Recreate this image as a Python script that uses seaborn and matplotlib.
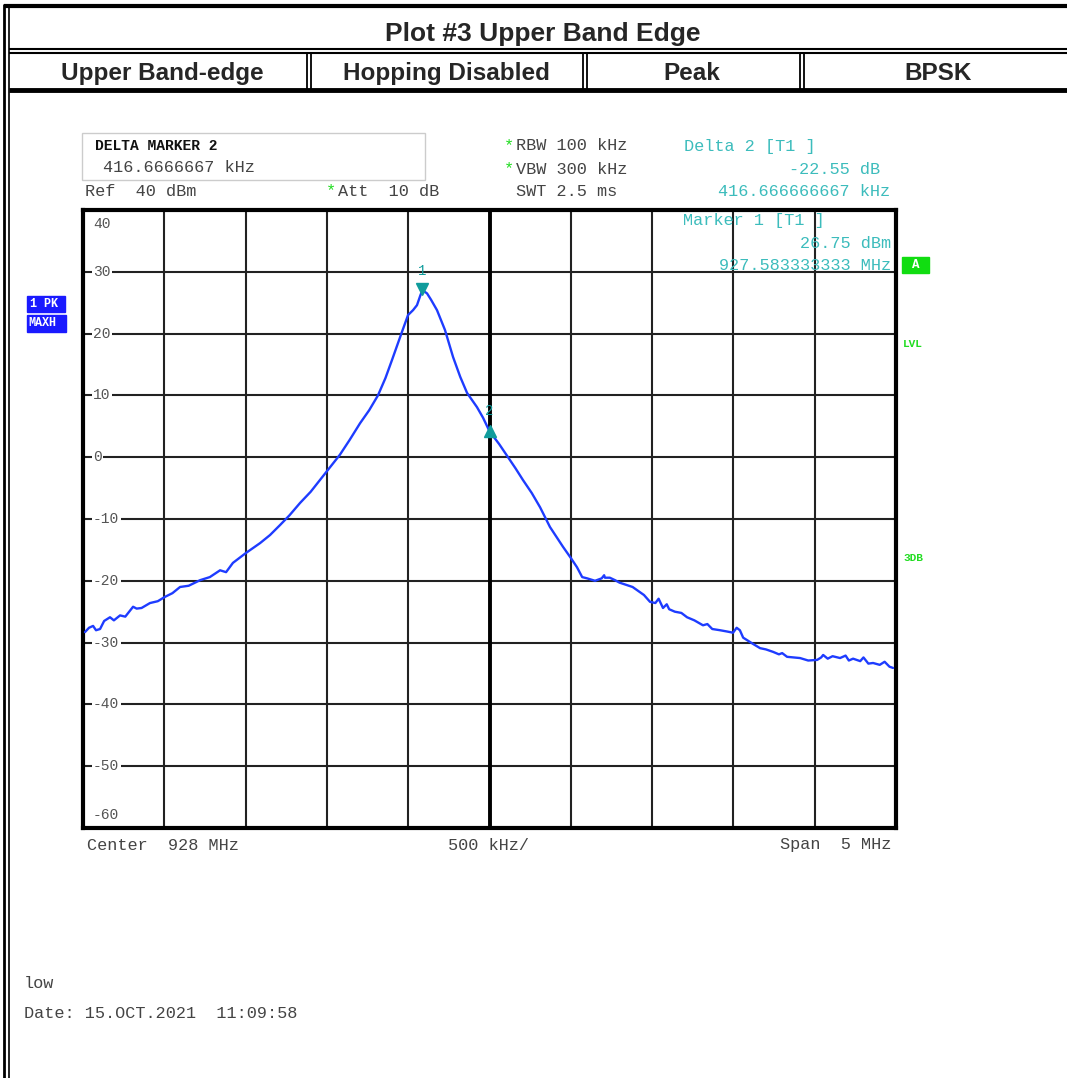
import matplotlib
matplotlib.use("Agg")
import matplotlib.pyplot as plt
import numpy as np
import pandas as pd
import seaborn as sns

# trace (MHz, dBm)
freq = [925.512, 925.537, 925.562, 925.580, 925.605, 925.630, 925.666, 925.690, 925.728, 925.760,
        925.808, 925.830, 925.860, 925.912, 925.960, 926.004, 926.050, 926.097, 926.150, 926.220,
        926.280, 926.343, 926.380, 926.422, 926.502, 926.589, 926.650, 926.711, 926.770, 926.835,
        926.900, 926.957, 927.020, 927.080, 927.140, 927.204, 927.260, 927.314, 927.360, 927.400,
        927.440, 927.462, 927.499, 927.530, 927.554, 927.575, 927.583, 927.600, 927.616, 927.640,
        927.677, 927.726, 927.776, 927.820, 927.862, 927.923, 927.960, 928.000, 928.060, 928.114,
        928.160, 928.206, 928.260, 928.311, 928.372, 928.452, 928.500, 928.538, 928.570, 928.600,
        928.649, 928.690, 928.705, 928.710, 928.740, 928.772, 928.800, 928.846, 928.880, 928.907,
        928.950, 928.987, 929.020, 929.040, 929.067, 929.090, 929.105, 929.140, 929.180, 929.215,
        929.260, 929.313, 929.340, 929.370, 929.418, 929.460, 929.498, 929.520, 929.540, 929.560,
        929.584, 929.620, 929.664, 929.700, 929.744, 929.780, 929.800, 929.830, 929.870, 929.910,
        929.960, 930.015, 930.040, 930.052, 930.080, 930.110, 930.156, 930.190, 930.210, 930.236,
        930.280, 930.300, 930.330, 930.359, 930.400, 930.430, 930.460, 930.482]
level = [-28.3, -27.6, -27.3, -28.0, -27.8, -26.5, -25.9, -26.4, -25.6, -25.8,
         -24.2, -24.5, -24.4, -23.6, -23.3, -22.6, -22.0, -21.0, -20.8, -19.9,
         -19.4, -18.3, -18.6, -17.1, -15.5, -13.9, -12.6, -11.0, -9.4, -7.4,
         -5.6, -3.7, -1.6, 0.4, 2.8, 5.5, 7.6, 10.0, 12.8, 15.7,
         18.7, 20.3, 23.0, 23.8, 24.6, 26.2, 26.75, 26.8, 26.5, 25.5,
         23.8, 20.6, 16.2, 13.0, 10.4, 8.1, 6.4, 4.2, 2.1, 0.0,
         -1.8, -3.7, -5.8, -8.1, -11.3, -14.5, -16.3, -17.8, -19.4, -19.6,
         -20.0, -19.6, -19.1, -19.5, -19.5, -19.9, -20.3, -20.7, -21.0, -21.5,
         -22.3, -23.4, -23.6, -22.9, -24.4, -23.8, -24.6, -25.0, -25.2, -25.9,
         -26.4, -27.2, -27.0, -27.8, -28.0, -28.2, -28.4, -27.6, -28.0, -29.2,
         -29.6, -30.2, -30.9, -31.1, -31.5, -31.9, -31.7, -32.3, -32.4, -32.5,
         -32.9, -32.8, -32.4, -32.0, -32.6, -32.2, -32.5, -32.1, -32.9, -32.6,
         -33.0, -32.4, -33.4, -33.3, -33.6, -33.1, -33.9, -34.1]

m1_freq, m1_level = 927.583333, 26.75
m2_freq, m2_level = 928.0, 26.75 - 22.55

f_start, f_stop = 925.5, 930.5
db_ticks = [40, 30, 20, 10, 0, -10, -20, -30, -40, -50, -60]
header_cells = ["Upper Band-edge", "Hopping Disabled", "Peak", "BPSK"]

sns.set_style("white")
plt.rcParams['font.family'] = ['Liberation Mono', 'DejaVu Sans Mono']

W, H = 1067, 1078
fig = plt.figure(figsize=(W / 100, H / 100), dpi=100)

# main screen grid
ax = fig.add_axes([83 / W, 1 - 828 / H, 813 / W, 618 / H])
df = pd.DataFrame({"f": freq, "lvl": level})
sns.lineplot(data=df, x="f", y="lvl", ax=ax, color="#1e3cff", lw=1.7, zorder=5)
ax.set_xlim(f_start, f_stop)
ax.set_ylim(-60, 40)
ax.set_xticks(np.linspace(f_start, f_stop, 11))
ax.set_yticks(db_ticks)
ax.grid(True, color="#222222", lw=1.5)
ax.axvline(928.0, color="black", lw=2.8, zorder=2)
ax.tick_params(labelbottom=False, labelleft=False, length=0)
ax.set_xlabel("")
ax.set_ylabel("")
for s in ax.spines.values():
    s.set_linewidth(3)
    s.set_color("black")

# markers
mk = "#109c9c"
ax.plot([m1_freq], [m1_level + 0.5], marker="v", ms=8, color=mk, zorder=6)
ax.text(m1_freq, m1_level + 2.2, "1", color=mk, fontsize=10, ha="center", va="bottom")
ax.plot([m2_freq], [m2_level], marker="^", ms=8, color=mk, zorder=6)
ax.text(m2_freq, m2_level + 2.2, "2", color=mk, fontsize=10, ha="center", va="bottom")

# overlay in pixel coordinates for the frame and screen annotations
ov = fig.add_axes([0, 0, 1, 1], zorder=10)
ov.set_xlim(0, W)
ov.set_ylim(H, 0)
ov.axis("off")
ov.patch.set_alpha(0)

def hline(y, x0=0, x1=W, lw=1.5, c="black"):
    ov.plot([x0, x1], [y, y], color=c, lw=lw, solid_capstyle="butt")

def vline(x, y0, y1, lw=1.5, c="black"):
    ov.plot([x, x], [y0, y1], color=c, lw=lw, solid_capstyle="butt")

# page frame
hline(6, 4, W, lw=3)
vline(4, 4, H, lw=2)
vline(9, 4, H, lw=1.2)
hline(49, 9, W, lw=1.5)
hline(53, 9, W, lw=1.5)
hline(90, 9, W, lw=3.5)
for x in [307, 311, 583, 587, 800, 804]:
    vline(x, 53, 89, lw=1.3)

bold_sans = ['Liberation Sans', 'DejaVu Sans']
ov.text(543, 41, "Plot #3 Upper Band Edge", family=bold_sans, fontweight="bold",
        fontsize=19, ha="center", va="baseline")
for cx, label in zip([162, 446, 692, 938], header_cells):
    ov.text(cx, 80, label, family=bold_sans, fontweight="bold", fontsize=17.5,
            ha="center", va="baseline")

grey = "#444444"
teal = "#3cbcbc"
green = "#22dd22"
fs = 12.2

# delta marker box
ov.add_patch(plt.Rectangle((82, 133), 343, 47, fill=False, ec="#cccccc", lw=1))
ov.text(95, 146, "DELTA MARKER 2", fontsize=10.5, fontweight="bold", color="#111111", va="center")
ov.text(103, 168, "416.6666667 kHz", fontsize=fs, color=grey, va="center")
ov.text(85, 191, "Ref  40 dBm", fontsize=fs, color=grey, va="center")
ov.text(326, 191, "*", fontsize=fs, color=green, va="center")
ov.text(338, 191, "Att  10 dB", fontsize=fs, color=grey, va="center")
ov.text(504, 146, "*", fontsize=fs, color=green, va="center")
ov.text(516, 146, "RBW 100 kHz", fontsize=fs, color=grey, va="center")
ov.text(504, 169, "*", fontsize=fs, color=green, va="center")
ov.text(516, 169, "VBW 300 kHz", fontsize=fs, color=grey, va="center")
ov.text(516, 191, "SWT 2.5 ms", fontsize=fs, color=grey, va="center")

ov.text(684, 147, "Delta 2 [T1 ]", fontsize=fs, color=teal, va="center")
ov.text(880, 169, "-22.55 dB", fontsize=fs, color=teal, va="center", ha="right")
ov.text(890, 191, "416.666666667 kHz", fontsize=fs, color=teal, va="center", ha="right")
ov.text(683, 221, "Marker 1 [T1 ]", fontsize=fs, color=teal, va="center")
ov.text(891, 243, "26.75 dBm", fontsize=fs, color=teal, va="center", ha="right")
ov.text(891, 265, "927.583333333 MHz", fontsize=fs, color=teal, va="center", ha="right")

ov.add_patch(plt.Rectangle((902, 257), 27, 16, color="#11dd11"))
ov.text(915.5, 265.5, "A", fontsize=9, fontweight="bold", color="white", ha="center", va="center")
ov.text(903, 344, "LVL", fontsize=8, fontweight="bold", color=green, va="center")
ov.text(903, 558, "3DB", fontsize=8, fontweight="bold", color=green, va="center")

ov.add_patch(plt.Rectangle((27, 296), 38, 16, color="#1a1aff"))
ov.text(30, 304, "1 PK", fontsize=8.5, fontweight="bold", color="white", va="center")
ov.add_patch(plt.Rectangle((27, 315), 39, 17, color="#1a1aff"))
ov.text(28, 323.5, "MAXH", fontsize=8.5, fontweight="bold", color="white", va="center")

# y labels sit on the grid lines with a white background
px_per_db = 618 / 100
for v in db_ticks:
    y = 828 - (v + 60) * px_per_db
    if v == 40:
        y += 14
    if v == -60:
        y -= 13
    ov.text(93, y, str(v), fontsize=10.5, color="#555555", va="center", ha="left",
            bbox=dict(boxstyle="square,pad=0.1", fc="white", ec="none"))

ov.text(87, 845, "Center  928 MHz", fontsize=fs, color=grey, va="center")
ov.text(448, 845, "500 kHz/", fontsize=fs, color=grey, va="center")
ov.text(891, 845, "Span  5 MHz", fontsize=fs, color=grey, va="center", ha="right")

ov.text(24, 983, "low", fontsize=fs, color=grey, va="center")
ov.text(24, 1014, "Date: 15.OCT.2021  11:09:58", fontsize=fs, color=grey, va="center")

fig.savefig("out.png", dpi=100)
